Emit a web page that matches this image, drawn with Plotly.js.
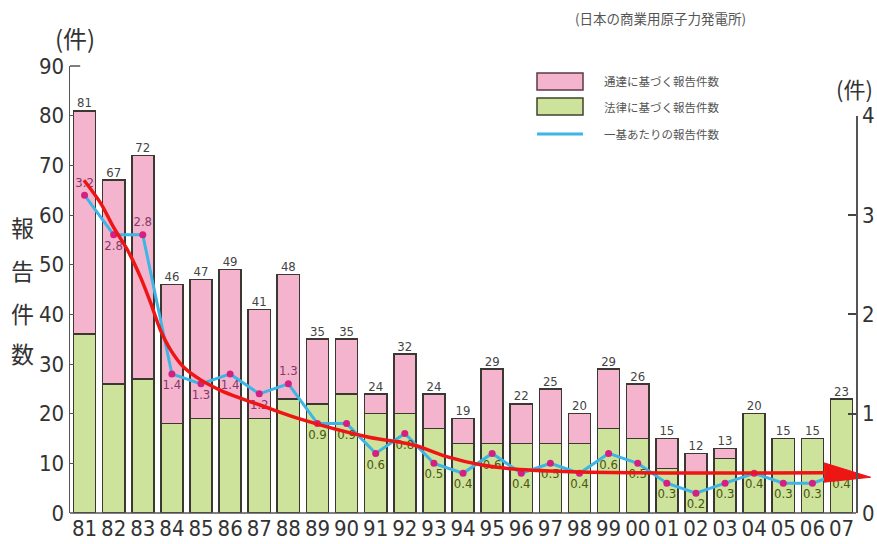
<!DOCTYPE html>
<html>
<head>
<meta charset="utf-8">
<script src="https://cdn.plot.ly/plotly-3.0.1.min.js"></script>
<style>html,body{margin:0;padding:0;background:#fff;}#chart{width:877px;height:544px;}</style>
</head>
<body>
<div id="chart"></div>
<script>
// ---- data ----
const years = ['81','82','83','84','85','86','87','88','89','90','91','92','93','94','95','96','97','98','99','00','01','02','03','04','05','06','07'];
const totalReports = [81,67,72,46,47,49,41,48,35,35,24,32,24,19,29,22,25,20,29,26,15,12,13,20,15,15,23];
const lawReports   = [36,26,27,18,19,19,19,23,22,24,20,20,17,14,14,14,14,14,17,15,9,8,11,20,15,15,23];
const perUnit      = [3.2,2.8,2.8,1.4,1.3,1.4,1.2,1.3,0.9,0.9,0.6,0.8,0.5,0.4,0.6,0.4,0.5,0.4,0.6,0.5,0.3,0.2,0.3,0.4,0.3,0.3,0.4];
const labelAbove   = ['81','83','88'];
// hand-drawn red trend arrow (category index, value on left axis)
const trendIdx = [-0.02,0.55,1.00,1.48,1.92,2.27,2.61,2.96,3.40,3.99,4.67,5.36,6.05,7.42,9.73,11.3,12.47,13.6,14.74,17.04,21.2,25.4];
const trendVal = [67.0,62.4,57.5,52.9,47.5,42.3,36.8,32.8,29.4,26.8,24.7,23.1,21.7,18.9,15.3,13.7,11.3,9.7,8.85,8.25,8.05,8.1];
const arrowHeadIdx = [25.4,27.0,25.4];
const arrowHeadVal = [10.1,7.2,6.2];
const legendLabels = ['通達に基づく報告件数','法律に基づく報告件数','一基あたりの報告件数'];
const yTitleChars = ['報','告','件','数'];
const subtitle = '(日本の商業用原子力発電所)';
const unitLabel = '(件)';

// ---- derived ----
const idx = years.map((_, i) => i);
const noticeReports = totalReports.map((t, i) => t - lawReports[i]);
const scaleRatio = 20; // left axis 0-90 vs right axis 0-4.5

const NUM_FONT = 'Liberation Sans Narrow, DejaVu Sans Condensed, Liberation Sans, Arial, sans-serif';
const JP_FONT = 'Noto Sans CJK JP, sans-serif';
const PINK = '#f5b4cd', GREEN = '#cde29a', OUTLINE = '#3b3832';
const CYAN = '#3db5e5', MAGENTA = '#d4207f', RED = '#ee1515';

const traces = [
  { type:'bar', x: idx, y: lawReports, width: 0.76,
    marker:{color: GREEN, line:{color: OUTLINE, width: 1.6}}, hoverinfo:'skip' },
  { type:'bar', x: idx, y: noticeReports, width: 0.76,
    marker:{color: PINK, line:{color: OUTLINE, width: 1.6}}, hoverinfo:'skip' },
  { type:'scatter', mode:'text', x: idx, y: totalReports, text: totalReports.map(String),
    textposition:'top center', textfont:{family: NUM_FONT, size: 13, color:'#444'}, cliponaxis:false, hoverinfo:'skip' },
  { type:'scatter', mode:'lines+markers+text', x: idx, y: perUnit, yaxis:'y2',
    line:{color: CYAN, width: 3}, marker:{color: MAGENTA, size: 7},
    text: perUnit.map(v => v.toFixed(1)),
    textposition: years.map(y => labelAbove.includes(y) ? 'top center' : 'bottom center'),
    textfont:{family: NUM_FONT, size: 13, color: perUnit.map((v, i) => (i <= 7 ? '#86386c' : '#4a5612'))},
    cliponaxis:false, hoverinfo:'skip' },
  { type:'scatter', mode:'lines', x: trendIdx, y: trendVal.map(v => v / scaleRatio), yaxis:'y2',
    line:{color: RED, width: 3.5, shape:'spline', smoothing: 1}, hoverinfo:'skip' },
  { type:'scatter', mode:'lines', x: arrowHeadIdx, y: arrowHeadVal.map(v => v / scaleRatio), yaxis:'y2',
    fill:'toself', fillcolor: RED, line:{color: RED, width: 1}, hoverinfo:'skip' }
];

const W = 877, H = 544, ML = 70, MR = 2, MT = 66, MB = 31;
const pw = W - ML - MR, ph = H - MT - MB;
const px = x => (x - ML) / pw;
const py = y => (H - MB - y) / ph;

function note(x, y, text, size, color, xanchor) {
  return { xref:'paper', yref:'paper', x: px(x), y: py(y), text: text, showarrow:false,
    xanchor: xanchor || 'center', yanchor:'middle',
    font:{family: JP_FONT, size: size, color: color} };
}
const annotations = [
  note(75, 38, unitLabel, 24, '#333'),
  note(854, 88, unitLabel, 22, '#333'),
  note(660, 18, subtitle, 13.5, '#555')
];
const yTitleY = [227, 270, 313, 353];
yTitleChars.forEach((c, i) => annotations.push(note(22, yTitleY[i], c, 23, '#333')));
const legendY = [81, 107, 134];
legendLabels.forEach((t, i) => annotations.push(note(602, legendY[i], t, 11.5, '#555', 'left')));

const shapes = [
  { type:'line', xref:'x', yref:'paper', x0:-0.5, x1:26.5, y0:0, y1:0, line:{color:'#555', width:1.5} },
  { type:'line', xref:'x', yref:'paper', x0:-0.5, x1:-0.15, y0:1, y1:1, line:{color:'#555', width:1.5} },
  { type:'rect', xref:'paper', yref:'paper', x0: px(537), x1: px(583), y0: py(90), y1: py(73),
    fillcolor: PINK, line:{color:'#5a3a44', width:1.5} },
  { type:'rect', xref:'paper', yref:'paper', x0: px(537), x1: px(583), y0: py(115), y1: py(98),
    fillcolor: GREEN, line:{color:'#3e4428', width:1.5} },
  { type:'line', xref:'paper', yref:'paper', x0: px(537), x1: px(583), y0: py(134), y1: py(134),
    line:{color: CYAN, width:3} }
];

const layout = {
  width: W, height: H, margin:{l: ML, r: MR, t: MT, b: MB, pad: 0},
  paper_bgcolor:'#fff', plot_bgcolor:'rgba(0,0,0,0)',
  barmode:'stack', showlegend:false,
  xaxis:{ range:[-0.5, 27.15], tickvals: idx, ticktext: years, showline:false, ticks:'',
    showgrid:false, zeroline:false, fixedrange:true,
    tickfont:{family: NUM_FONT, size: 22, color:'#333'} },
  yaxis:{ range:[0, 90], tickvals:[0,10,20,30,40,50,60,70,80,90], showline:true, linecolor:'#555', linewidth:1.5,
    ticks:'inside', ticklen:4, tickcolor:'#555', showgrid:false, zeroline:false, fixedrange:true,
    tickfont:{family: NUM_FONT, size: 22, color:'#333'} },
  yaxis2:{ anchor:'free', position: 27 / 27.65, side:'right', domain:[0, 80/90], range:[0, 4],
    tickvals:[0,1,2,3,4], showline:true, linecolor:'#555', linewidth:1.5, ticks:'inside', ticklen:8,
    tickcolor:'#444', tickwidth:2, showgrid:false, zeroline:false, fixedrange:true,
    tickfont:{family: NUM_FONT, size: 22, color:'#333'} },
  annotations: annotations, shapes: shapes
};

Plotly.newPlot('chart', traces, layout, {displayModeBar:false, staticPlot:true});
</script>
</body>
</html>
